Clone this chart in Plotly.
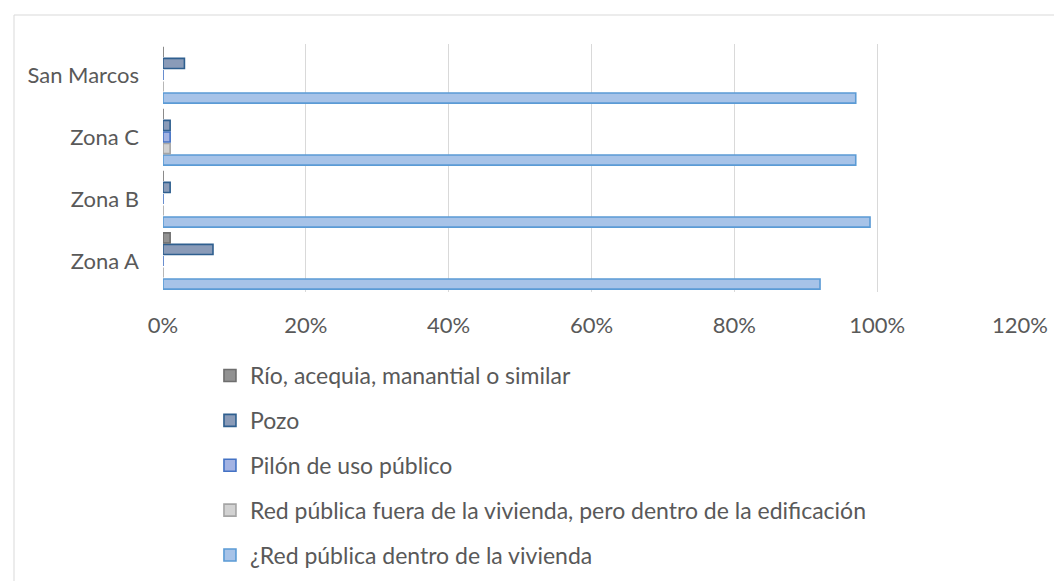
import plotly.graph_objects as go

categories = ["Zona A", "Zona B", "Zona C", "San Marcos"]
series_names = [
    "¿Red pública dentro de la vivienda",
    "Red pública fuera de la vivienda, pero dentro de la edificación",
    "Pilón de uso público",
    "Pozo",
    "Río, acequia, manantial o similar",
]
red_dentro = [0.92, 0.99, 0.97, 0.97]
red_fuera = [0.0, 0.0, 0.01, 0.0]
pilon = [0.0, 0.0, 0.01, 0.0]
pozo = [0.07, 0.01, 0.01, 0.03]
rio = [0.01, 0.0, 0.0, 0.0]
x_ticks = [0, 0.2, 0.4, 0.6, 0.8, 1.0, 1.2]

values = [red_dentro, red_fuera, pilon, pozo, rio]
fills = ["#a7c3e8", "#d2d2d2", "#a3b3e3", "#8a9bb8", "#929292"]
lines = ["#5b9bd5", "#a5a5a5", "#4472c4", "#2f5f8f", "#6e6e6e"]

fig = go.Figure()
for i, (name, vals) in enumerate(zip(series_names, values)):
    fig.add_trace(go.Bar(
        y=categories, x=vals, name=name, orientation="h",
        marker=dict(color=fills[i], line=dict(color=lines[i], width=1.6)),
        legendgroup=str(i), legendrank=len(series_names) - i,
    ))

font_family = "Lato, 'Open Sans', sans-serif"
W, H = 1054, 573
L, R, T = 155, 42, 36
PH = 248
B = H - T - PH
fig.update_layout(
    width=W, height=H,
    margin=dict(l=L, r=R, t=T, b=B, autoexpand=False),
    paper_bgcolor="white", plot_bgcolor="white",
    barmode="group", bargap=0.07, bargroupgap=0.12,
    font=dict(family=font_family, size=22, color="#595959"),
    showlegend=True,
    legend=dict(
        orientation="v", traceorder="grouped", tracegroupgap=12,
        x=0.0548, xanchor="left", y=-0.250, yanchor="top",
        font=dict(size=23, color="#595959", family=font_family),
        bgcolor="rgba(0,0,0,0)",
    ),
    xaxis=dict(
        range=[0, 1.2], tickvals=x_ticks, tickformat=".0%",
        showgrid=True, gridcolor="#d9d9d9", gridwidth=1,
        zeroline=False, showline=False, ticks="",
        ticklabelstandoff=18, fixedrange=True, automargin=False,
    ),
    yaxis=dict(
        showgrid=False, zeroline=False, showline=False, ticks="",
        ticklabelstandoff=23, fixedrange=True, automargin=False,
    ),
    shapes=[dict(type="rect", xref="paper", yref="paper",
                 x0=(6 - L) / 857, x1=1.2, y0=-2, y1=(T + PH - 7) / PH,
                 line=dict(color="#d9d9d9", width=1), fillcolor="rgba(0,0,0,0)",
                 layer="below")],
)

fig.write_html("out.html")
